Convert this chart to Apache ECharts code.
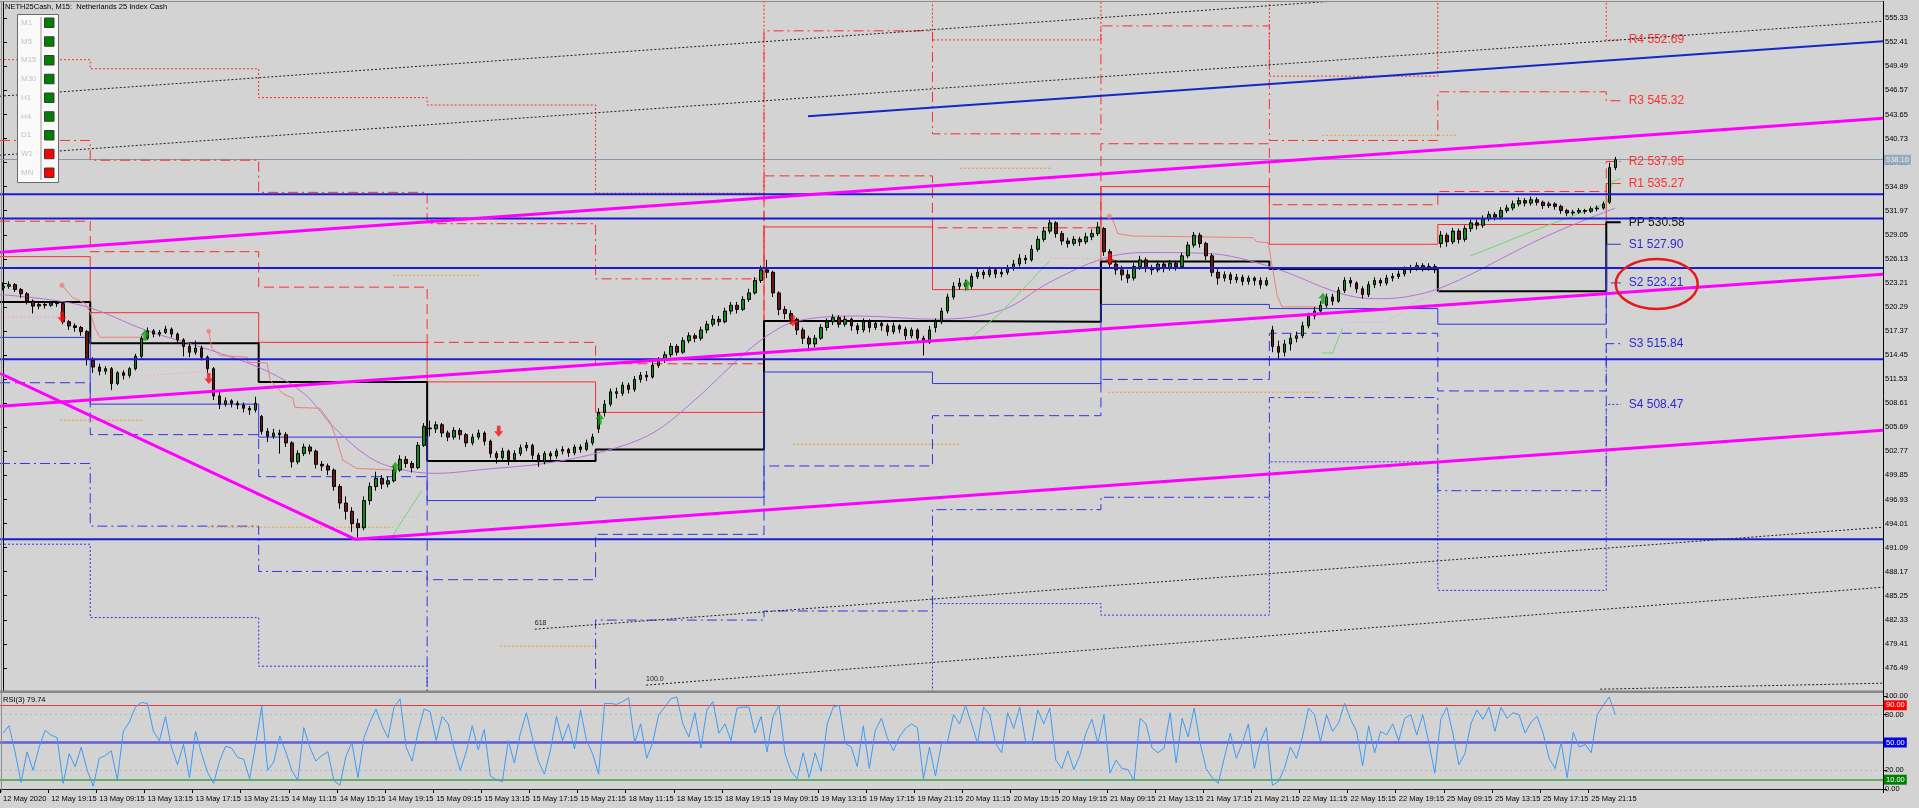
<!DOCTYPE html>
<html>
<head>
<meta charset="utf-8">
<title>NETH25Cash M15</title>
<script src="https://cdn.jsdelivr.net/npm/echarts@6/dist/echarts.min.js"></script>
<style>
html,body{margin:0;padding:0;background:#d3d3d3;overflow:hidden;}
#chart{width:1919px;height:808px;}
</style>
</head>
<body>
<div id="chart"></div>
<script>
// ---------------- DATA ----------------
const tickLabels = ['12 May 2020','12 May 19:15','13 May 09:15','13 May 13:15','13 May 17:15','13 May 21:15','14 May 11:15','14 May 15:15','14 May 19:15','15 May 09:15','15 May 13:15','15 May 17:15','15 May 21:15','18 May 11:15','18 May 15:15','18 May 19:15','19 May 09:15','19 May 13:15','19 May 17:15','19 May 21:15','20 May 11:15','20 May 15:15','20 May 19:15','21 May 09:15','21 May 13:15','21 May 17:15','21 May 21:15','22 May 11:15','22 May 15:15','22 May 19:15','25 May 09:15','25 May 13:15','25 May 17:15','25 May 21:15'];
const tickEvery = 8;
const slotCount = 313;

const may12 = [[522.6,522.8,522.3,523.3],[522.8,523.0,522.5,523.4],[523.0,522.4,522.1,523.2],[522.4,521.9,521.4,522.6],[521.9,521.0,520.6,522.1],[521.0,520.4,519.5,521.2],[520.4,520.6,520.0,520.9],[520.6,520.5,520.1,520.9],[520.5,520.8,520.3,521.0],[520.8,520.7,520.3,521.0],[520.7,518.5,518.2,520.8],[518.5,518.0,517.5,518.7],[518.0,517.8,517.3,518.3],[517.8,517.3,516.8,518.0],[517.3,514.0,513.2,517.5]];
const may13 = [[513.8,513.0,512.3,514.2],[513.0,512.5,512.0,513.4],[512.5,512.8,512.1,513.1],[512.8,511.0,510.2,513.0],[511.0,512.3,510.8,512.5],[512.3,512.0,511.5,512.6],[512.0,512.8,511.7,513.0],[512.8,514.3,512.6,514.6],[514.3,516.5,514.1,516.8],[516.5,517.4,516.3,517.8],[517.4,517.0,516.6,517.6],[517.0,517.2,516.7,517.5],[517.2,517.6,517.0,518.0],[517.6,517.0,516.6,517.8],[517.0,516.3,515.9,517.2],[516.3,515.5,514.3,516.5],[515.5,514.8,514.2,515.9],[514.8,515.3,514.5,516.2],[515.3,514.2,513.8,515.6],[514.2,512.8,512.3,514.4],[512.8,509.5,509.0,513.0],[509.5,508.5,507.9,510.0],[508.5,508.9,508.2,509.3],[508.9,508.6,508.1,509.1],[508.6,508.4,507.9,508.9],[508.4,508.0,507.5,508.7],[508.0,507.8,507.2,508.3],[507.8,508.6,507.5,509.4]];
const may14 = [[507.0,505.2,504.8,507.2],[505.2,504.6,503.9,505.6],[504.6,505.0,504.3,505.5],[505.0,504.8,502.5,505.4],[504.8,503.8,503.3,505.1],[503.8,501.5,500.8,504.0],[501.5,502.5,501.2,502.9],[502.5,503.3,502.2,503.7],[503.3,502.8,502.4,503.6],[502.8,501.2,500.7,503.0],[501.2,501.0,500.4,501.6],[501.0,500.5,499.9,501.3],[500.5,498.5,498.0,500.7],[498.5,496.5,495.8,498.8],[496.5,495.5,494.5,497.3],[495.5,494.0,493.0,496.0],[494.0,493.5,492.3,494.6],[493.5,496.8,493.2,497.3],[496.8,498.5,496.3,499.0],[498.5,499.5,498.0,500.3],[499.5,498.8,498.2,499.9],[498.8,499.2,498.4,499.7],[499.2,500.5,499.0,501.0],[500.5,501.8,500.3,502.3],[501.8,501.3,500.8,502.2],[501.3,500.8,500.2,501.6],[500.8,503.5,500.6,503.9],[503.5,505.8,503.3,506.2]];
const may15 = [[505.6,505.5,504.6,506.5],[505.5,506.0,505.0,506.4],[506.0,505.0,504.5,506.2],[505.0,504.5,504.0,505.3],[504.5,505.3,504.2,505.7],[505.3,504.8,504.2,505.6],[504.8,503.8,503.3,505.0],[503.8,504.5,503.5,504.9],[504.5,505.0,504.2,505.4],[505.0,504.0,503.5,505.2],[504.0,502.5,502.0,504.2],[502.5,502.0,501.3,502.8],[502.0,502.8,501.7,503.2],[502.8,501.8,501.1,503.0],[501.8,502.5,501.5,502.9],[502.5,503.2,502.2,503.6],[503.2,503.5,502.8,503.9],[503.5,502.3,501.8,503.7],[502.3,501.5,500.9,502.6],[501.5,502.5,501.2,502.8],[502.5,502.2,501.7,502.8],[502.2,502.8,501.9,503.1],[502.8,503.0,502.4,503.4],[503.0,502.6,502.1,503.2],[502.6,503.3,502.3,503.6],[503.3,503.0,502.6,503.6],[503.0,503.8,502.8,504.2],[503.8,504.5,503.5,504.9]];
const may18 = [[505.5,507.5,505.0,508.0],[507.5,508.5,507.0,509.0],[508.5,510.0,508.2,510.4],[510.0,509.8,509.2,510.5],[509.8,510.8,509.5,511.2],[510.8,510.3,509.8,511.1],[510.3,511.5,510.0,511.9],[511.5,512.0,511.1,512.4],[512.0,511.8,511.3,512.5],[511.8,513.2,511.6,513.6],[513.2,513.8,512.9,514.2],[513.8,514.5,513.5,514.9],[514.5,515.5,514.2,515.9],[515.5,514.8,514.4,515.8],[514.8,516.2,514.6,516.6],[516.2,516.8,515.9,517.2],[516.8,516.5,516.0,517.1],[516.5,517.5,516.2,517.9],[517.5,518.2,517.1,518.6],[518.2,518.8,517.9,519.3],[518.8,518.5,518.0,519.2],[518.5,519.8,518.3,520.2],[519.8,520.5,519.4,520.9],[520.5,520.0,519.5,520.9],[520.0,521.2,519.8,521.6],[521.2,522.0,520.9,522.5],[522.0,523.5,521.8,523.9],[523.5,524.8,523.2,525.3]];
const may19 = [[524.8,524.5,523.8,526.0],[524.5,522.0,521.5,524.7],[522.0,520.0,519.3,522.2],[520.0,519.5,518.8,520.4],[519.5,518.8,518.2,519.9],[518.8,517.5,516.9,519.0],[517.5,516.5,515.8,517.8],[516.5,515.8,515.2,516.8],[515.8,516.5,515.4,516.9],[516.5,517.8,516.3,518.2],[517.8,518.5,517.4,518.9],[518.5,519.0,518.1,519.4],[519.0,518.2,517.8,519.3],[518.2,518.8,517.9,519.2],[518.8,518.0,517.4,519.0],[518.0,517.5,517.0,518.3],[517.5,518.5,517.2,518.9],[518.5,517.8,517.2,518.8],[517.8,518.3,517.5,518.6],[518.3,518.0,517.4,518.6],[518.0,517.3,516.8,518.3],[517.3,518.0,517.0,518.4],[518.0,517.6,517.1,518.2],[517.6,516.8,516.3,517.9],[516.8,517.5,516.5,517.8],[517.5,516.5,516.0,517.7],[516.5,516.0,514.4,516.8],[516.0,517.5,515.8,518.0]];
const may20 = [[517.8,518.5,517.2,518.9],[518.5,519.8,518.2,520.2],[519.8,521.5,519.5,521.9],[521.5,522.8,521.2,523.3],[522.8,523.2,522.4,523.8],[523.2,522.8,522.3,523.6],[522.8,524.0,522.5,524.4],[524.0,524.5,523.7,524.9],[524.5,524.2,523.7,524.8],[524.2,524.8,523.9,525.2],[524.8,524.3,523.8,525.0],[524.3,524.5,523.9,524.9],[524.5,525.0,524.2,525.4],[525.0,525.5,524.7,526.0],[525.5,526.2,525.2,526.7],[526.2,526.0,525.5,526.6],[526.0,527.3,525.8,527.8],[527.3,528.5,527.0,528.9],[528.5,529.5,528.2,530.0],[529.5,530.5,529.2,530.9],[530.5,529.2,528.7,530.7],[529.2,528.3,527.8,529.5],[528.3,528.0,527.5,528.7],[528.0,528.5,527.7,528.9],[528.5,528.2,527.7,528.8],[528.2,528.8,527.9,529.3],[528.8,529.2,528.4,529.7],[529.2,530.0,528.9,530.6]];
const may21 = [[529.8,527.0,526.5,530.0],[527.0,525.5,525.0,527.3],[525.5,524.8,524.2,526.0],[524.8,524.2,523.5,525.3],[524.2,523.8,523.2,524.8],[523.8,525.2,523.5,525.6],[525.2,526.0,524.8,526.5],[526.0,525.0,524.5,526.3],[525.0,524.8,524.2,525.4],[524.8,525.5,524.5,525.9],[525.5,525.0,524.5,525.8],[525.0,525.6,524.7,526.0],[525.6,525.2,524.7,525.9],[525.2,526.5,525.0,526.9],[526.5,527.8,526.2,528.2],[527.8,529.0,527.5,529.4],[529.0,528.0,527.5,529.3],[528.0,526.5,526.0,528.2],[526.5,524.5,524.0,526.8],[524.5,523.8,523.0,525.0],[523.8,524.2,523.4,524.6],[524.2,523.6,523.1,524.5],[523.6,523.9,523.2,524.3],[523.9,523.4,522.9,524.2],[523.4,523.8,523.0,524.1],[523.8,523.5,522.9,524.0],[523.5,523.0,522.5,523.9],[523.0,523.5,522.8,523.9]];
const may22 = [[517.5,515.5,514.8,518.0],[515.5,514.8,514.0,516.2],[514.8,515.8,514.3,516.3],[515.8,516.5,515.0,517.0],[516.5,516.8,516.0,517.3],[516.8,518.0,516.5,518.5],[518.0,519.2,517.7,519.6],[519.2,519.8,518.8,520.3],[519.8,520.5,519.4,521.0],[520.5,521.5,520.2,521.9],[521.5,521.0,520.5,521.9],[521.0,522.3,520.8,522.7],[522.3,523.5,522.0,523.9],[523.5,523.2,522.7,523.9],[523.2,522.5,522.0,523.4],[522.5,521.8,521.3,522.8],[521.8,523.0,521.5,523.4],[523.0,523.5,522.6,523.9],[523.5,523.2,522.8,523.8],[523.2,523.8,522.9,524.2],[523.8,524.0,523.4,524.4],[524.0,524.3,523.7,524.7],[524.3,524.8,524.0,525.2],[524.8,525.0,524.4,525.4],[525.0,525.3,524.7,525.7],[525.3,525.0,524.6,525.6],[525.0,525.2,524.7,525.6],[525.2,524.8,524.4,525.5]];
const may25 = [[528.0,529.0,527.5,529.5],[529.0,528.2,527.6,529.3],[528.2,529.5,527.9,529.9],[529.5,528.5,528.0,529.8],[528.5,529.8,528.2,530.2],[529.8,530.5,529.4,530.9],[530.5,530.2,529.7,530.9],[530.2,531.0,529.9,531.4],[531.0,531.5,530.7,531.9],[531.5,531.2,530.8,531.8],[531.2,532.0,530.9,532.4],[532.0,532.3,531.7,532.7],[532.3,532.8,532.0,533.2],[532.8,533.2,532.5,533.6],[533.2,532.9,532.5,533.5],[532.9,533.3,532.6,533.7],[533.3,533.0,532.6,533.6],[533.0,532.6,532.2,533.2],[532.6,532.8,532.3,533.1],[532.8,532.5,532.1,533.0],[532.5,532.0,531.6,532.7],[532.0,531.7,531.3,532.2],[531.7,531.8,531.4,532.1],[531.8,532.0,531.6,532.3],[532.0,531.9,531.6,532.2],[531.9,532.2,531.7,532.5],[532.2,532.3,531.9,532.6],[532.3,532.8,532.1,533.1]];
const may26 = [[533.0,537.2,532.8,537.8],[537.2,538.16,536.9,538.5]];

const rsiValues = [60,68,40,7,40,20,45,63,58,55, 6,38,24,45,20,3,33,36,41,10, 62,72,88,93,92,62,52,78,45,26, 48,12,62,38,18,6,30,46,44,34,
 32,11,48,89,20,29,57,40,20,9, 66,45,30,36,40,9,4,35,50,12, 55,72,86,68,55,88,97,45,30,62, 86,83,52,78,70,43,20,40,68,42,
 64,14,10,8,52,28,60,82,55,30, 16,42,78,52,70,43,85,52,38,16, 92,92,91,94,98,50,70, 33,50,80,88,97,99,70,56,82,44,
 85,94,60,70,52,87,88,88,60,78, 40,78,90,38,19,11,39,12,39,19, 70,88,90,49,45,24,68,22,63,76, 55,41,56,65,70,66,11,45,14,49,
 51,80,70,90,70,49,88,80,49,39, 82,65,88,50,49,85,70,87,31,22, 41,21,36,60,75,49,80,17,31,22, 21,9,76,70,44,39,44,82,28,76,
 56,87,49,22,12,6,33,60,33,49, 70,22,51,66,4,8, 22,45,33,56,87,80,51,80,62,71, 92,75,62,25,68,39,62,58,70,52,
 76,80,58,80,50,17,75,88,60,26, 38,70,85,75,88,62,88,76,82,80, 60,72,78,60,33,22,50,12,61,45, 48,39,80,90,99,79.74];

const priceTicks = {min: 473.57, max: 557.30, step: 2.92};
const rsiTicks = [0, 20, 80, 100];

const dayStarts = [0, 15, 43, 71, 99, 127, 155, 183, 211, 239, 267];
const pivotPP = [520.9, 515.9, 511.2, 501.6, 503.0, 518.6, 518.5, 525.8, 524.9, 522.2, 530.58];
const pivotR1 = [526.4, 519.6, 516.0, 511.2, 507.5, 530.0, 522.4, 534.9, 527.9, 530.3, 535.27];
const pivotR2 = [530.7, 527.0, 522.7, 516.0, 513.4, 536.2, 529.9, 540.1, 532.7, 534.3, 537.95];
const pivotR3 = [540.5, 538.1, 534.2, 530.4, 523.7, 553.8, 541.3, 554.4, 540.5, 546.4, 545.32];
const pivotR4 = [550.3, 549.2, 545.7, 544.8, 534.1, 571.4, 552.7, 568.7, 548.3, 558.5, 552.69];
const pivotS1 = [516.6, 508.5, 504.5, 496.8, 497.2, 512.4, 511.0, 520.6, 520.1, 518.2, 527.90];
const pivotS2 = [511.1, 504.8, 499.7, 487.2, 492.7, 501.0, 507.1, 511.5, 517.1, 510.1, 523.21];
const pivotS3 = [501.3, 493.7, 488.2, 472.8, 482.3, 483.4, 495.7, 497.2, 509.3, 498.0, 515.84];
const pivotS4 = [491.5, 482.6, 476.7, 458.4, 472.0, 465.8, 484.3, 482.9, 501.5, 485.9, 508.47];
const pivotEnd = 268.9;

const hLines = [533.97, 531.02, 525.03, 513.95, 492.11];
const magentaLines = [
  [[-0.5, 526.94], [312.5, 543.20]],
  [[-0.5, 508.25], [312.5, 524.27]],
  [[58.5, 492.11], [312.5, 505.34]],
  [[-0.5, 512.25], [58.5, 492.11]]
];
const blueTrend = [[133.8, 543.44], [312.5, 552.54]];
const dottedLines = [
  [[-0.5, 545.87], [312.5, 562.17]],
  [[-0.5, 538.71], [312.5, 554.97]],
  [[88.4, 481.19], [312.5, 493.57]],
  [[106.9, 474.40], [312.5, 486.29]],
  [[265.5, 473.91], [312.5, 474.64]]
];
const fibLabels = [['618', 88.4, 481.19], ['100.0', 106.9, 474.40]];
const orangeSegs = [[9.5, 23.3, 506.55], [34.1, 64.8, 493.57], [64.8, 79.3, 524.14], [82.6, 98.9, 479.13],
  [131.3, 159.2, 503.64], [159.1, 174.4, 537.13], [183.7, 218.9, 509.95], [219.3, 241.5, 541.13]];
const maPoints = [[-0.5,521.8],[13,520.5],[24,517.4],[33,515.4],[43,512.8],[50,509.8],[55,505.7],[61,502.0],[66,500.6],[72,500.1],[80,500.6],[90,501.3],[100,502.8],[108,505.0],[115,509.0],[122,513.8],[127,516.8],[132,518.6],[142,519.2],[155,518.8],[166,519.9],[174,523.3],[183,526.2],[190,526.9],[200,526.8],[211,525.1],[222,522.0],[228,521.3],[233,521.5],[240,522.9],[256,528.7],[268,532.3]];
const salmonSegs = [
  [[9.8,522.93],[11.5,521.48],[13.6,520.75],[14.5,519.66],[15.3,517.72],[16.1,516.62],[22.8,516.62]],
  [[34.2,517.35],[34.7,515.3],[36.1,514.4],[40.6,514.2],[40.7,513.6],[43.9,513.5],[44.4,511.4],[46.5,509.8],[48.2,509.2],[48.5,508.1],[52.7,508.0],[54.4,506.3],[55.5,504.1],[56.5,501.7],[57.2,501.4],[58.8,500.7],[64.8,500.5]],
  [[183.9,531.3],[184.5,530.8],[185.3,529.2],[187.8,528.9],[199,528.8],[207.8,528.7],[208.4,528.2],[210.3,528.1],[211,525.1],[211.8,521.7],[212.6,520.3],[218.6,520.3]]
];
const pinkSegs = [
  [[-0.5,519.05],[9.5,519.05]],
  [[23.6,511.9],[28,512.2],[33,512.4]],
  [[66,494.8],[69.3,494.8]],
  [[174,526.2],[182.3,526.2]],
  [[223.4,518.4],[230,518.4],[232.2,519.5],[232.7,520.1],[238.9,522.3]]
];
const greenSegs = [
  [[64.8,492.6],[69.6,498.0]],
  [[160,516.0],[165.7,519.5],[174,525.9]],
  [[219.2,514.7],[221,514.7],[222.7,517.8]],
  [[244,526.5],[255.5,529.85],[266.6,532.9],[267.5,535.5],[268.9,535.9]]
];
const downArrows = [[9.8,519.05],[34.2,511.6],[82.4,505.2],[131.3,518.6],[184,526.1]];
const upArrows = [[23.6,516.86],[65.2,500.85],[99.2,506.7],[160.2,523.0],[219.4,521.35]];
const lastPrice = 538.16;
const rsiLast = 79.74;

const tfLabels = ['M1','M5','M15','M30','H1','H4','D1','W1','MN'];
const tfUp = [true,true,true,true,true,true,true,false,false];

// ---------------- CHART ----------------
const FONT = 'Liberation Sans';
const candles = [...may12, ...may13, ...may14, ...may15, ...may18, ...may19, ...may20, ...may21, ...may22, ...may25, ...may26];
const categories = Array.from({length: slotCount}, (_, i) => String(i));

const chart = echarts.init(document.getElementById('chart'), null, {renderer: 'canvas'});

function ln(data, color, width, type, z, extra) {
  return Object.assign({
    type: 'line', xAxisIndex: 2, yAxisIndex: 0, data: data, showSymbol: false, symbol: 'none',
    lineStyle: {color: color, width: width, type: type}, z: z, silent: true, clip: true, animation: false
  }, extra || {});
}

const series = [];
const pivotDefs = [
  {n:'R4', v:pivotR4, c:'#ff2b2b', w:1, t:[2,2], lc:'#ff3030'},
  {n:'R3', v:pivotR3, c:'#ff2b2b', w:1, t:[10,4,2,4], lc:'#ff3030'},
  {n:'R2', v:pivotR2, c:'#ff2b2b', w:1, t:[10,5], lc:'#ff3030'},
  {n:'R1', v:pivotR1, c:'#ff2b2b', w:1, t:'solid', lc:'#ff3030'},
  {n:'PP', v:pivotPP, c:'#000000', w:2, t:'solid', lc:'#111111'},
  {n:'S1', v:pivotS1, c:'#3434e4', w:1, t:'solid', lc:'#2a2ad8'},
  {n:'S2', v:pivotS2, c:'#3434e4', w:1, t:[10,5], lc:'#2a2ad8'},
  {n:'S3', v:pivotS3, c:'#3434e4', w:1, t:[10,4,2,4], lc:'#2a2ad8'},
  {n:'S4', v:pivotS4, c:'#3434e4', w:1, t:[2,2], lc:'#2a2ad8'}
];
pivotDefs.forEach(p => {
  const d = dayStarts.map((s, k) => [s - 0.5, p.v[k]]);
  d.push([pivotEnd, p.v[p.v.length - 1]]);
  series.push(ln(d, p.c, p.w, p.t, 2, {
    step: 'end',
    endLabel: {show: true, formatter: p.n + ' ' + p.v[p.v.length - 1].toFixed(2), color: p.lc,
      fontSize: 12, fontFamily: FONT, distance: 8}
  }));
});

orangeSegs.forEach(s => series.push(ln([[s[0], s[2]], [s[1], s[2]]], '#e3a21a', 1, [2,2], 2)));
series.push(ln(maPoints, '#b572d8', 1, 'solid', 3, {smooth: 0.35}));
salmonSegs.forEach(s => series.push(ln(s, '#f27c7c', 1, 'solid', 3)));
pinkSegs.forEach(s => series.push(ln(s, '#f2a6d6', 1, [2,2], 3)));
greenSegs.forEach(s => series.push(ln(s, '#72d872', 1, 'solid', 3)));

series.push({
  type: 'candlestick', xAxisIndex: 0, yAxisIndex: 0, data: candles, barWidth: 3, z: 4,
  itemStyle: {color: '#0d8d0d', color0: '#6a1616', borderColor: '#000', borderColor0: '#000', borderWidth: 1},
  silent: true, animation: false,
  markLine: {
    silent: true, symbol: ['none','none'], animation: false, z: 1,
    lineStyle: {color: '#8797a8', width: 1, type: 'solid'},
    data: [{yAxis: lastPrice}],
    label: {show: true, position: 'end', formatter: lastPrice.toFixed(2), backgroundColor: '#9aabbd',
      color: '#e4eaf0', fontSize: 7.5, fontFamily: FONT, padding: [1,2,1,2], distance: 1}
  }
});

hLines.forEach(p => series.push(ln([[-0.5, p], [312.5, p]], '#1b1bd2', 2, 'solid', 6)));
magentaLines.forEach(l => series.push(ln(l, '#ff00ff', 3, 'solid', 7)));
series.push(ln(blueTrend, '#1428c8', 2, 'solid', 7));
dottedLines.forEach(l => series.push(ln(l, '#1e1e1e', 1, [2,2], 6)));

series.push({type:'scatter', xAxisIndex:2, yAxisIndex:0, data: salmonSegs.map(s => s[0]), symbol:'circle', symbolSize:5,
  itemStyle:{color:'#f08080'}, z: 8, silent: true, animation: false});
series.push({type:'scatter', xAxisIndex:2, yAxisIndex:0, data: downArrows, symbol:'path://M3,0 H7 V6 H10 L5,12 L0,6 H3 Z',
  symbolSize:[9,11], itemStyle:{color:'#ff1010'}, z: 8, silent: true, animation: false});
series.push({type:'scatter', xAxisIndex:2, yAxisIndex:0, data: upArrows, symbol:'path://M5,0 L10,6 H7 V12 H3 V6 H0 Z',
  symbolSize:[9,11], itemStyle:{color:'#12a012'}, z: 8, silent: true, animation: false});

series.push({
  type: 'line', xAxisIndex: 1, yAxisIndex: 1, data: rsiValues, showSymbol: false, symbol: 'none',
  lineStyle: {color: '#3d9bf5', width: 1}, z: 5, silent: true, animation: false,
  markLine: {
    silent: true, symbol: ['none','none'], animation: false,
    label: {show: true, position: 'end', fontSize: 7.5, fontFamily: FONT, padding: [1,2,1,2], distance: 1, color: '#fff'},
    data: [
      {yAxis: 80, lineStyle: {color: '#b9b9b9', width: 1, type: [2,3]}, label: {show: false}},
      {yAxis: 20, lineStyle: {color: '#b9b9b9', width: 1, type: [2,3]}, label: {show: false}},
      {yAxis: 90, lineStyle: {color: '#e23a3a', width: 1, type: 'solid'}, label: {formatter: '90.00', backgroundColor: '#ff0000'}},
      {yAxis: 50, lineStyle: {color: '#5e5ed6', width: 2.5, type: 'solid'}, label: {formatter: '50.00', backgroundColor: '#0000e6'}},
      {yAxis: 10, lineStyle: {color: '#3f9f3f', width: 1.5, type: 'solid'}, label: {formatter: '10.00', backgroundColor: '#008000'}}
    ]
  }
});

const isTick = (i) => i % tickEvery === 0 && i / tickEvery < tickLabels.length;

const option = {
  backgroundColor: '#d3d3d3',
  animation: false,
  grid: [
    {left: 0, top: 2, width: 1883, height: 690},
    {left: 0, top: 696, width: 1883, height: 93}
  ],
  xAxis: [
    {type: 'category', gridIndex: 0, data: categories, boundaryGap: true, show: false},
    {type: 'category', gridIndex: 1, data: categories, boundaryGap: true, offset: 3,
      axisLine: {show: true, lineStyle: {color: '#202020', width: 1}},
      axisTick: {show: true, interval: isTick, length: 4, lineStyle: {color: '#000'}},
      axisLabel: {interval: isTick, formatter: (v, i) => tickLabels[i / tickEvery] || '', align: 'left',
        fontSize: 7.5, color: '#000', margin: 3, fontFamily: FONT},
      splitLine: {show: false}},
    {type: 'value', gridIndex: 0, min: -0.5, max: slotCount - 0.5, show: false}
  ],
  yAxis: [
    {type: 'value', gridIndex: 0, position: 'right', min: priceTicks.min, max: priceTicks.max, interval: priceTicks.step,
      axisLine: {show: true, lineStyle: {color: '#000'}},
      axisTick: {show: true, length: 4, lineStyle: {color: '#000'}},
      axisLabel: {show: true, showMinLabel: false, showMaxLabel: false, formatter: v => v.toFixed(2), fontSize: 7.5,
        color: '#000', margin: 2, fontFamily: FONT},
      splitLine: {show: false}},
    {type: 'value', gridIndex: 1, position: 'right', min: 0, max: 100, interval: 20,
      axisLine: {show: true, lineStyle: {color: '#000'}},
      axisTick: {show: true, length: 4, customValues: rsiTicks, lineStyle: {color: '#000'}},
      axisLabel: {show: true, customValues: rsiTicks, formatter: v => (rsiTicks.indexOf(Math.round(v)) >= 0 ? Number(v).toFixed(2) : ''),
        fontSize: 7.5, color: '#000', margin: 2, fontFamily: FONT},
      splitLine: {show: false}}
  ],
  series: series
};
chart.setOption(option);

const toPx = (x, y) => chart.convertToPixel({xAxisIndex: 2, yAxisIndex: 0}, [x, y]);
const graphics = [];
graphics.push({type:'line', shape:{x1:0, y1:1.5, x2:1884, y2:1.5}, style:{stroke:'#8c8c8c', lineWidth:1}, z: 50});
graphics.push({type:'line', shape:{x1:1.5, y1:1, x2:1.5, y2:792}, style:{stroke:'#8c8c8c', lineWidth:1}, z: 50});
graphics.push({type:'rect', shape:{x:0, y:690.5, width:1884, height:2.6}, style:{fill:'#868686'}, z: 50});
graphics.push({type:'line', shape:{x1:1883.5, y1:1, x2:1883.5, y2:792}, style:{stroke:'#000', lineWidth:1}, z: 50});
graphics.push({type:'text', x:5, y:7, style:{text:'NETH25Cash, M15:  Netherlands 25 Index Cash', font:'7.5px "Liberation Sans"', fill:'#000', verticalAlign:'middle'}, z: 60});
graphics.push({type:'text', x:3, y:700, style:{text:'RSI(3) ' + rsiLast.toFixed(2), font:'7.5px "Liberation Sans"', fill:'#000', verticalAlign:'middle'}, z: 60});
graphics.push({type:'rect', shape:{x:17.5, y:14.5, width:41, height:168}, style:{fill:'#fafafa', stroke:'#6a6a6a', lineWidth:1}, z: 60});
graphics.push({type:'line', shape:{x1:41, y1:17, x2:41, y2:180}, style:{stroke:'#a8a8a8', lineWidth:1.2}, z: 61});
tfLabels.forEach((t, i) => {
  const cy = 22.7 + 18.75 * i;
  graphics.push({type:'text', x:21, y:cy, style:{text:t, font:'8px "Liberation Sans"', fill:'#c2c2c2', verticalAlign:'middle'}, z: 61});
  graphics.push({type:'rect', shape:{x:44.5, y:cy - 4.7, width:9.5, height:9.5}, style:{fill: tfUp[i] ? '#008000' : '#ff0000', stroke:'#3a3a3a', lineWidth:1}, z: 61});
});
fibLabels.forEach(f => {
  const p = toPx(f[1], f[2]);
  graphics.push({type:'text', x:p[0], y:p[1] - 3, style:{text:f[0], font:'7px "Liberation Sans"', fill:'#222', verticalAlign:'bottom'}, z: 60});
});
const s2 = toPx(pivotEnd, pivotS2[pivotS2.length - 1]);
graphics.push({type:'ellipse', shape:{cx:s2[0] + 36, cy:s2[1] + 1, rx:41, ry:25}, style:{fill:'none', stroke:'#e31b1b', lineWidth:2.5}, z: 70});

chart.setOption({graphic: graphics});
</script>
</body>
</html>
